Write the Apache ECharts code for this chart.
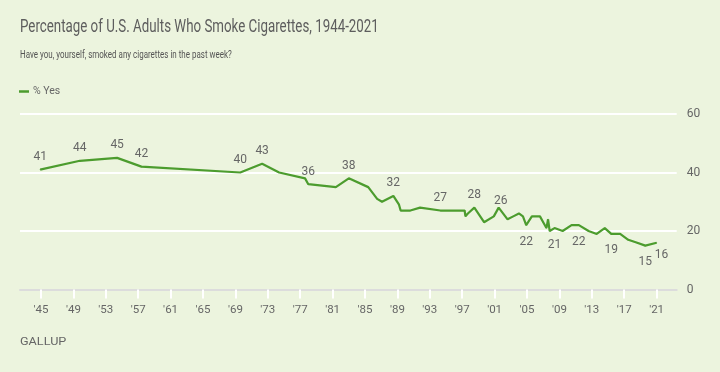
<!DOCTYPE html>
<html>
<head>
<meta charset="utf-8">
<script src="https://cdn.jsdelivr.net/npm/echarts@6/dist/echarts.min.js"></script>
<style>
html,body{margin:0;padding:0;background:#ecf4de;}
#chart{width:720px;height:372px;}
</style>
</head>
<body>
<div id="chart"></div>
<script>
// Survey dates (fractional year) and % Yes
const years = [1944.9, 1949.8, 1954.4, 1957.4, 1969.6, 1972.3, 1974.4, 1977.6, 1978.0, 1981.4,
  1983.0, 1985.4, 1986.5, 1987.1, 1988.5, 1989.2, 1989.4, 1990.6, 1991.8, 1994.3,
  1997.3, 1997.4, 1997.7, 1998.5, 1999.7, 2000.9, 2001.5, 2002.6, 2003.3, 2004.0,
  2004.5, 2004.9, 2005.6, 2006.6, 2007.0, 2007.4, 2007.6, 2007.8, 2008.4, 2009.4,
  2010.5, 2011.4, 2012.6, 2013.6, 2014.6, 2015.4, 2016.5, 2017.5, 2018.6, 2019.6, 2021.0];
const pctYes = [41, 44, 45, 42, 40, 43, 40, 38, 36, 35,
  38, 35, 31, 30, 32, 29, 27, 27, 28, 27,
  27, 25, 26, 28, 23, 25, 28, 24, 25, 26,
  25, 22, 25, 25, 23, 21, 24, 20, 21, 20,
  22, 22, 20, 19, 21, 19, 19, 17, 16, 15, 16];
// Labels shown on the chart ('' = none)
const pointLabels = ['41','44','45','42','40','43','','','36','',
  '38','','','','32','','','','','27',
  '','','','28','','','26','','','',
  '','22','','','','','','','21','',
  '','22','','','','19','','','','15','16'];
const tickYears = [1945,1949,1953,1957,1961,1965,1969,1973,1977,1981,1985,1989,1993,1997,2001,2005,2009,2013,2017,2021];
const yTicks = [0, 20, 40, 60];
const titleText = 'Percentage of U.S. Adults Who Smoke Cigarettes, 1944-2021';
const subtitleText = 'Have you, yourself, smoked any cigarettes in the past week?';
const seriesName = '% Yes';

const FONT = 'Roboto, "Noto Sans", sans-serif';
const below = {31:1, 38:1, 41:1, 45:1, 49:1, 50:1};
const labelOffset = {26:[2,6], 50:[5,-4]};

const data = years.map((y, i) => {
  const item = {value: [y, pctYes[i]]};
  if (pointLabels[i]) {
    item.label = {
      show: true,
      formatter: pointLabels[i],
      position: below[i] ? 'bottom' : 'top',
      distance: below[i] ? 10 : 6,
      offset: labelOffset[i] || [0, 0]
    };
  }
  return item;
});

const chart = echarts.init(document.getElementById('chart'), null, {renderer: 'canvas'});
chart.setOption({
  backgroundColor: '#ecf4de',
  animation: false,
  textStyle: {fontFamily: FONT},
  graphic: [
    {type: 'text', x: 20, y: 27, scaleX: 0.74,
     style: {text: titleText, font: '18px ' + FONT, fill: '#5d5d5d', textVerticalAlign: 'middle', verticalAlign: 'middle'}},
    {type: 'text', x: 20, y: 55, scaleX: 0.76,
     style: {text: subtitleText, font: '10.5px ' + FONT, fill: '#555555', textVerticalAlign: 'middle', verticalAlign: 'middle'}},
    {type: 'text', x: 20, y: 342, scaleX: 1.15,
     style: {text: 'GALLUP', font: '11px ' + FONT, fill: '#666666', textVerticalAlign: 'middle', verticalAlign: 'middle'}}
  ],
  legend: {
    data: [seriesName],
    left: 14, top: 81,
    icon: 'rect', itemWidth: 10, itemHeight: 2.5, itemGap: 4,
    textStyle: {color: '#666666', fontSize: 10.5, fontFamily: FONT, padding: [0,0,0,-1]}
  },
  grid: {left: 20, right: 43.3, top: 114, bottom: 82.5, containLabel: false},
  xAxis: {
    type: 'value', min: 1942.41, max: 2023.48,
    axisLine: {show: true, lineStyle: {color: '#dcdcdc', width: 2}},
    axisTick: {show: true, customValues: tickYears, length: 9, lineStyle: {color: '#ffffff', width: 2}},
    axisLabel: {customValues: tickYears, margin: 15, color: '#666666', fontSize: 11.5, fontFamily: FONT,
      formatter: v => "'" + String(Math.round(v)).slice(2)},
    splitLine: {show: false}
  },
  yAxis: {
    type: 'value', position: 'right', min: 0, max: 60, interval: 20,
    axisLine: {show: false}, axisTick: {show: false},
    axisLabel: {customValues: yTicks, margin: 10, color: '#666666', fontSize: 12, fontFamily: FONT},
    splitLine: {show: true, lineStyle: {color: '#ffffff', width: 2}}
  },
  series: [{
    name: seriesName,
    type: 'line',
    data: data,
    symbol: 'circle', symbolSize: 1, showSymbol: true,
    itemStyle: {color: '#4c9c2e'},
    lineStyle: {color: '#4c9c2e', width: 2.2},
    label: {show: false, color: '#666666', fontSize: 12, fontFamily: FONT},
    emphasis: {disabled: true},
    z: 3
  }]
});
</script>
</body>
</html>
